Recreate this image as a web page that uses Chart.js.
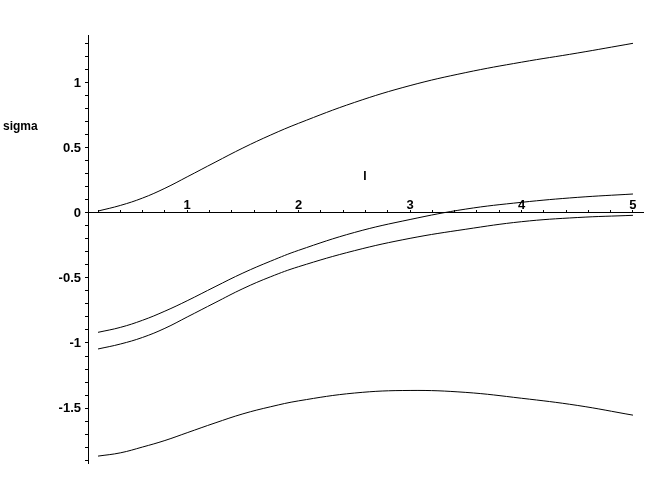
<!DOCTYPE html>
<html>
<head>
<meta charset="utf-8">
<script src="https://cdn.jsdelivr.net/npm/chart.js@4/dist/chart.umd.min.js"></script>
<style>
  html, body { margin: 0; padding: 0; background: #fff; }
  #wrap { width: 647px; height: 500px; }
</style>
</head>
<body>
<div id="wrap"><canvas id="plot" width="647" height="500"></canvas></div>
<script>
// x positions the curves were read at
const xValues = [0.2, 0.4, 0.6, 0.8, 1.0, 1.25, 1.5, 1.75, 2.0, 2.5, 3.0, 3.5, 4.0, 4.5, 5.0];

// four sigma branches, top to bottom
const sigma1 = [0.015, 0.058, 0.115, 0.19, 0.278, 0.39, 0.50, 0.60, 0.69, 0.85, 0.98, 1.08, 1.16, 1.23, 1.305];
const sigma2 = [-0.918, -0.88, -0.825, -0.755, -0.675, -0.567, -0.462, -0.37, -0.287, -0.15, -0.05, 0.03, 0.082, 0.12, 0.146];
const sigma3 = [-1.046, -1.008, -0.957, -0.887, -0.80, -0.69, -0.582, -0.49, -0.413, -0.29, -0.195, -0.125, -0.067, -0.035, -0.018];
const sigma4 = [-1.87, -1.845, -1.80, -1.75, -1.69, -1.615, -1.545, -1.49, -1.445, -1.385, -1.365, -1.38, -1.425, -1.48, -1.555];

const xTickLabels = [1, 2, 3, 4, 5];
const yTickLabels = [-1.5, -1, -0.5, 0, 0.5, 1];

const tickFont = { family: 'Liberation Sans', size: 13, weight: 'bold' };

function toPoints(ys) {
  return xValues.map((x, i) => ({ x: x, y: ys[i] }));
}

function curve(ys) {
  return {
    data: toPoints(ys),
    showLine: true,
    borderColor: '#000',
    borderWidth: 1,
    pointRadius: 0,
    fill: false,
    tension: 0.4
  };
}

// minor tick grid: every `step` between `from` and `to`
function stepTicks(from, to, step) {
  return scale => {
    const out = [];
    const n = Math.round((to - from) / step);
    for (let i = 0; i <= n; i++) out.push({ value: Math.round((from + i * step) * 10) / 10 });
    scale.ticks = out;
  };
}

function isLabel(list, v) {
  return list.some(l => Math.abs(l - v) < 1e-6);
}

// axis names, Maple style
const axisNames = {
  id: 'axisNames',
  afterDraw(chart) {
    const ctx = chart.ctx;
    ctx.save();
    ctx.fillStyle = '#000';
    ctx.font = 'bold 12px "Liberation Sans"';
    ctx.textBaseline = 'middle';
    ctx.textAlign = 'left';
    ctx.fillText('sigma', 3, 127);
    ctx.textAlign = 'center';
    ctx.fillText('I', 365, 177);
    ctx.restore();
  }
};

new Chart(document.getElementById('plot').getContext('2d'), {
  type: 'scatter',
  data: {
    datasets: [curve(sigma1), curve(sigma2), curve(sigma3), curve(sigma4)]
  },
  options: {
    responsive: false,
    animation: false,
    layout: { padding: { top: 35, right: 4, bottom: 37, left: 0 } },
    plugins: { legend: { display: false }, tooltip: { enabled: false } },
    scales: {
      x: {
        type: 'linear',
        min: 0.11,
        max: 5.09,
        position: { y: 0 },
        afterBuildTicks: stepTicks(0.2, 5.0, 0.2),
        border: { display: true, color: '#000', width: 1 },
        grid: { drawOnChartArea: false, drawTicks: true, tickLength: -3, color: '#000' },
        ticks: {
          color: '#000',
          font: tickFont,
          padding: -12,
          maxRotation: 0,
          autoSkip: false,
          callback: v => isLabel(xTickLabels, v) ? String(Math.round(v)) : ''
        }
      },
      y: {
        type: 'linear',
        min: -1.923,
        max: 1.369,
        position: 'left',
        afterFit: s => { s.width = 88; },
        afterBuildTicks: stepTicks(-1.9, 1.3, 0.1),
        border: { display: true, color: '#000', width: 1 },
        grid: { drawOnChartArea: false, drawTicks: true, tickLength: 3, color: '#000' },
        ticks: {
          color: '#000',
          font: tickFont,
          padding: 4,
          autoSkip: false,
          callback: v => isLabel(yTickLabels, v) ? String(Math.round(v * 10) / 10) : ''
        }
      }
    }
  },
  plugins: [axisNames]
});
</script>
</body>
</html>
